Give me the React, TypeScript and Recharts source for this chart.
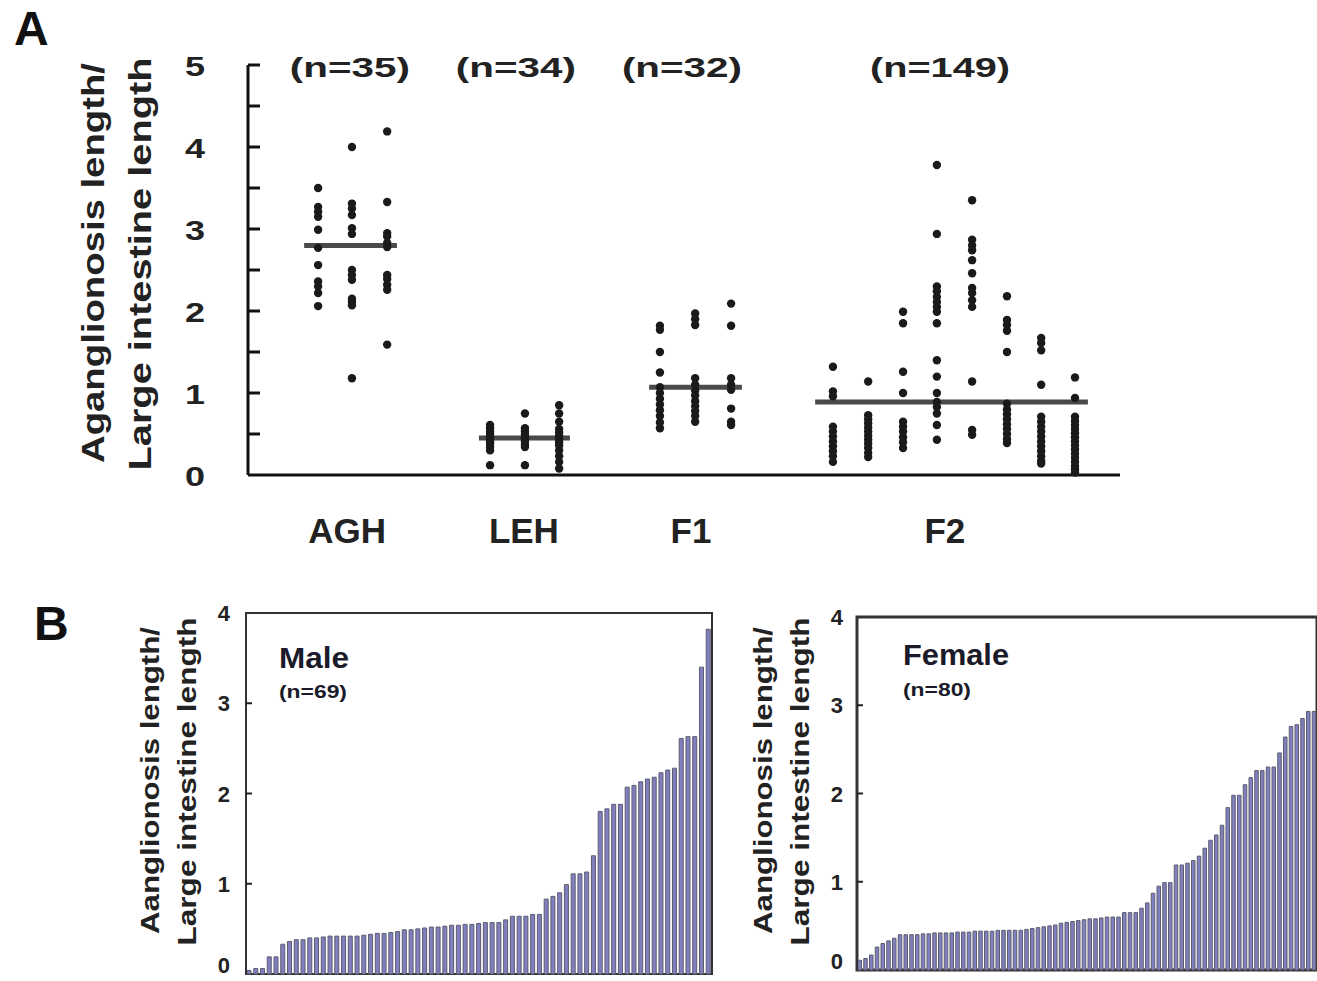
import React from 'react';
import {
  ScatterChart,
  Scatter,
  XAxis,
  YAxis,
  ReferenceLine,
  ReferenceArea,
  BarChart,
  Bar,
  Label,
} from 'recharts';

const FONT = '"Liberation Sans", Arial, sans-serif';

// ---------- Panel A data ----------
const groupNames = ['AGH', 'LEH', 'F1', 'F2'];
const groupLabelX = [2.84, 7.91, 12.7, 19.98];
const groupCounts = ['(n=35)', '(n=34)', '(n=32)', '(n=149)'];
const countLabelX = [2.92, 7.68, 12.44, 19.84];
const columnX = [
  [2.01, 2.98, 3.99],
  [6.94, 7.94, 8.92],
  [11.81, 12.82, 13.85],
  [16.77, 17.78, 18.78, 19.75, 20.76, 21.76, 22.74, 23.71],
];
const aghValues = [
  [3.5, 3.27, 3.21, 3.15, 2.99, 2.77, 2.56, 2.36, 2.3, 2.22, 2.06],
  [4.0, 3.31, 3.25, 3.17, 3.01, 2.94, 2.5, 2.44, 2.38, 2.15, 2.11, 2.07, 1.18],
  [4.19, 3.33, 2.95, 2.91, 2.83, 2.78, 2.44, 2.39, 2.32, 2.26, 1.59],
];
const lehValues = [
  [0.61, 0.57, 0.53, 0.5, 0.47, 0.44, 0.41, 0.38, 0.34, 0.3, 0.12],
  [0.75, 0.57, 0.53, 0.5, 0.47, 0.44, 0.41, 0.37, 0.34, 0.12],
  [0.85, 0.75, 0.65, 0.56, 0.52, 0.48, 0.44, 0.4, 0.36, 0.3, 0.23, 0.16, 0.08],
];
const f1Values = [
  [1.82, 1.77, 1.5, 1.25, 1.07, 1.0, 0.93, 0.86, 0.79, 0.72, 0.64, 0.57],
  [1.97, 1.9, 1.83, 1.18, 1.1, 1.03, 0.97, 0.9, 0.84, 0.78, 0.72, 0.65],
  [2.09, 1.82, 1.18, 1.1, 1.04, 0.81, 0.65, 0.61],
];
const f2Values = [
  [1.32, 1.02, 0.96, 0.59, 0.53, 0.47, 0.41, 0.35, 0.29, 0.23, 0.16],
  [1.14, 0.73, 0.68, 0.63, 0.58, 0.53, 0.48, 0.43, 0.38, 0.33, 0.27, 0.22],
  [1.99, 1.85, 1.26, 1.0, 0.65, 0.59, 0.53, 0.46, 0.4, 0.33],
  [3.78, 2.94, 2.3, 2.24, 2.17, 2.11, 2.05, 1.99, 1.85, 1.4, 1.2, 1.0, 0.89, 0.83, 0.75, 0.61, 0.43],
  [3.35, 2.87, 2.8, 2.74, 2.62, 2.46, 2.28, 2.22, 2.13, 2.05, 1.14, 0.55, 0.49],
  [2.18, 1.89, 1.83, 1.76, 1.5, 0.87, 0.8, 0.74, 0.68, 0.62, 0.56, 0.5, 0.44, 0.39],
  [1.67, 1.61, 1.52, 1.1, 0.71, 0.65, 0.59, 0.53, 0.47, 0.41, 0.35, 0.29, 0.23, 0.17, 0.14],
  [1.19, 0.94, 0.71, 0.66, 0.61, 0.56, 0.51, 0.46, 0.41, 0.36, 0.31, 0.26, 0.21, 0.16, 0.11, 0.07, 0.03],
];
const medians = [2.8, 0.45, 1.07, 0.89];
const medianSpans = [
  [1.61, 4.27],
  [6.62, 9.23],
  [11.5, 14.16],
  [16.26, 24.08],
];
const yTicksA = [0, 0.5, 1, 1.5, 2, 2.5, 3, 3.5, 4, 4.5, 5];

// ---------- Panel B data ----------
const maleValues = [
  0.04, 0.06, 0.06, 0.19, 0.19, 0.33, 0.36, 0.38, 0.38, 0.4, 0.4, 0.41, 0.42, 0.42, 0.42, 0.42, 0.42,
  0.43, 0.44, 0.45, 0.45, 0.46, 0.47, 0.49, 0.49, 0.5, 0.51, 0.52, 0.52, 0.53, 0.54, 0.54, 0.55, 0.55,
  0.56, 0.57, 0.57, 0.57, 0.6, 0.64, 0.64, 0.64, 0.66, 0.66, 0.83, 0.86, 0.9, 0.99, 1.11, 1.11, 1.13,
  1.31, 1.8, 1.83, 1.88, 1.88, 2.07, 2.09, 2.13, 2.16, 2.18, 2.23, 2.26, 2.28, 2.61, 2.63, 2.63, 3.4,
  3.82,
];
const femaleValues = [
  0.11, 0.13, 0.17, 0.26, 0.3, 0.33, 0.36, 0.4, 0.4, 0.4, 0.4, 0.41, 0.41, 0.42, 0.42, 0.42, 0.42,
  0.43, 0.43, 0.43, 0.44, 0.44, 0.44, 0.44, 0.45, 0.45, 0.45, 0.45, 0.45, 0.46, 0.47, 0.48, 0.49, 0.5,
  0.51, 0.53, 0.54, 0.55, 0.56, 0.57, 0.58, 0.58, 0.59, 0.6, 0.6, 0.6, 0.65, 0.65, 0.65, 0.7, 0.76,
  0.87, 0.95, 0.99, 0.99, 1.19, 1.19, 1.21, 1.24, 1.29, 1.38, 1.47, 1.53, 1.64, 1.84, 1.98, 1.98, 2.1,
  2.18, 2.26, 2.26, 2.3, 2.3, 2.46, 2.64, 2.76, 2.78, 2.85, 2.93, 2.93,
];
const yTicksB = [0, 1, 2, 3, 4];

// ---------- build ----------
const groupValues = [aghValues, lehValues, f1Values, f2Values];
const points = groupValues.flatMap((cols, g) =>
  cols.flatMap((vals, c) => vals.map((v) => ({ x: columnX[g][c], y: v })))
);
const countLabels = countLabelX.map((x, i) => ({ x, y: 5, text: groupCounts[i] }));
const maleData = maleValues.map((v, i) => ({ i: i + 1, v }));
const femaleData = femaleValues.map((v, i) => ({ i: i + 1, v }));

const renderYTickA = (props: any) => {
  const { x, y, payload } = props;
  const v = payload.value;
  return (
    <g>
      {v > 0 && <line x1={x} x2={x + 12} y1={y} y2={y} stroke="#111" strokeWidth={3} />}
      {Number.isInteger(v) && (
        <text
          x={x - 43}
          y={y + 11}
          textAnchor="end"
          fontSize={28}
          fontWeight="bold"
          fontFamily={FONT}
          fill="#222"
          textLength={20}
          lengthAdjust="spacingAndGlyphs"
        >
          {v}
        </text>
      )}
    </g>
  );
};

const renderCatTick = (props: any) => {
  const { x, y, payload } = props;
  const idx = groupLabelX.indexOf(payload.value);
  return (
    <text x={x} y={y + 68} textAnchor="middle" fontSize={35} fontWeight="bold" fontFamily={FONT} fill="#222">
      {groupNames[idx]}
    </text>
  );
};

const renderDot = (props: any) => <circle cx={props.cx} cy={props.cy} r={4.2} fill="#1a1a1a" />;

const renderCount = (props: any) => {
  const t = props.payload.text as string;
  return (
    <text
      x={props.cx}
      y={props.cy + 12}
      textAnchor="middle"
      fontSize={28}
      fontWeight="bold"
      fontFamily={FONT}
      fill="#222"
      textLength={t.length * 20}
      lengthAdjust="spacingAndGlyphs"
    >
      {t}
    </text>
  );
};

const rotText = (cx: number, cy: number, s: string, size: number, len: number, key: string) => (
  <text
    key={key}
    x={cx}
    y={cy}
    dy="0.35em"
    transform={`rotate(-90, ${cx}, ${cy})`}
    textAnchor="middle"
    fontSize={size}
    fontWeight="bold"
    fontFamily={FONT}
    fill="#222"
    textLength={len}
    lengthAdjust="spacingAndGlyphs"
  >
    {s}
  </text>
);

const renderTitleA = (props: any) => {
  const vb = props.viewBox || { x: 188, y: 65, width: 60, height: 410 };
  const left = vb.x + vb.width;
  const cy = vb.y + vb.height / 2 - 7;
  return (
    <g>
      {rotText(left - 155, cy, 'Aganglionosis length/', 32, 400, 'a1')}
      {rotText(left - 108, cy + 1, 'Large intestine length', 32, 413, 'a2')}
    </g>
  );
};

const makeTitleB = (first: string, g1: number, g2: number) => (props: any) => {
  const vb = props.viewBox || { x: 0, y: 0, width: 0, height: 0 };
  const left = vb.x + vb.width;
  const cy = vb.y + vb.height / 2 - 13;
  return (
    <g>
      {rotText(left - g1, cy, first, 26, 307, 'b1')}
      {rotText(left - g2, cy + 1, 'Large intestine length', 26, 328, 'b2')}
    </g>
  );
};

const makeYTickB = (gap: number) => (props: any) => {
  const { x, y, payload } = props;
  const v = payload.value;
  return (
    <g>
      {v > 0 && v < 4 && <line x1={x} x2={x + 6} y1={y} y2={y} stroke="#222" strokeWidth={2} />}
      <text
        x={x - gap}
        y={v === 0 ? y - 1 : y + 8}
        textAnchor="end"
        fontSize={22}
        fontWeight="bold"
        fontFamily={FONT}
        fill="#222"
      >
        {v}
      </text>
    </g>
  );
};

const makeSexLabel = (title: string, count: string, dx: number, dy1: number, dy2: number, len1: number) => (props: any) => {
  const vb = props.viewBox || { x: 0, y: 0 };
  return (
    <g>
      <text x={vb.x + dx} y={vb.y + dy1} fontSize={29} fontWeight="bold" fontFamily={FONT} fill="#1a1a2a" textLength={len1} lengthAdjust="spacingAndGlyphs">
        {title}
      </text>
      <text x={vb.x + dx} y={vb.y + dy2} fontSize={18} fontWeight="bold" fontFamily={FONT} fill="#1a1a2a" textLength={68} lengthAdjust="spacingAndGlyphs">
        {count}
      </text>
    </g>
  );
};

export default function App() {
  return (
    <div style={{ position: 'absolute', left: 0, top: 0, width: 1317, height: 981, background: '#fff', overflow: 'hidden' }}>
      <div style={{ position: 'absolute', left: 0, top: 0 }}>
        <ScatterChart width={1317} height={560} margin={{ top: 65, right: 197, bottom: 25, left: 188 }}>
          <XAxis
            type="number"
            dataKey="x"
            domain={[0, 25]}
            ticks={groupLabelX}
            interval={0}
            tickLine={false}
            tickSize={0}
            tickMargin={0}
            height={60}
            axisLine={{ stroke: '#111', strokeWidth: 3 }}
            tick={renderCatTick}
            allowDataOverflow
          />
          <YAxis
            type="number"
            dataKey="y"
            domain={[0, 5]}
            ticks={yTicksA}
            interval={0}
            tickLine={false}
            tickSize={0}
            tickMargin={0}
            width={60}
            axisLine={{ stroke: '#111', strokeWidth: 3 }}
            tick={renderYTickA}
          >
            <Label content={renderTitleA} />
          </YAxis>
          {medians.map((m, i) => (
            <ReferenceLine
              key={`med${i}`}
              segment={[
                { x: medianSpans[i][0], y: m },
                { x: medianSpans[i][1], y: m },
              ]}
              stroke="#4a4a4a"
              strokeWidth={5}
            />
          ))}
          <Scatter data={points} shape={renderDot} isAnimationActive={false} />
          <Scatter data={countLabels} shape={renderCount} isAnimationActive={false} />
        </ScatterChart>
      </div>

      <div style={{ position: 'absolute', left: 0, top: 580 }}>
        <BarChart width={740} height={401} data={maleData} margin={{ top: 33, right: 28, bottom: 7, left: 146 }} barCategoryGap={0}>
          <XAxis dataKey="i" type="category" height={0} tick={false} tickLine={false} axisLine={{ stroke: '#111', strokeWidth: 3 }} />
          <YAxis
            type="number"
            domain={[0, 4]}
            ticks={yTicksB}
            interval={0}
            width={100}
            tickSize={0}
            tickMargin={0}
            tickLine={false}
            axisLine={{ stroke: '#333', strokeWidth: 2 }}
            tick={makeYTickB(16)}
          >
            <Label content={makeTitleB('Aanglionosis length/', 96, 59)} />
          </YAxis>
          <ReferenceArea y1={0} y2={4} fillOpacity={0} stroke="#333" strokeWidth={2} label={makeSexLabel('Male', '(n=69)', 33, 55, 85, 70)} />
          <Bar dataKey="v" fill="#8080c0" stroke="#5c5c6e" strokeWidth={1} barSize={4} isAnimationActive={false} />
        </BarChart>
      </div>

      <div style={{ position: 'absolute', left: 740, top: 580 }}>
        <BarChart width={577} height={401} data={femaleData} margin={{ top: 37, right: 0, bottom: 11, left: 17 }} barCategoryGap={0}>
          <XAxis dataKey="i" type="category" height={0} tick={false} tickLine={false} axisLine={{ stroke: '#111', strokeWidth: 3 }} />
          <YAxis
            type="number"
            domain={[0, 4]}
            ticks={yTicksB}
            interval={0}
            width={100}
            tickSize={0}
            tickMargin={0}
            tickLine={false}
            axisLine={{ stroke: '#333', strokeWidth: 2 }}
            tick={makeYTickB(14)}
          >
            <Label content={makeTitleB('Aanglionosis length/', 94, 57)} />
          </YAxis>
          <ReferenceArea y1={0} y2={4} fillOpacity={0} stroke="#333" strokeWidth={3} label={makeSexLabel('Female', '(n=80)', 46, 48, 79, 106)} />
          <Bar dataKey="v" fill="#8080c0" stroke="#5c5c6e" strokeWidth={1} barSize={3.5} isAnimationActive={false} />
        </BarChart>
      </div>

      <svg width={1317} height={981} style={{ position: 'absolute', left: 0, top: 0, pointerEvents: 'none' }}>
        <text x={14} y={45} fontSize={48} fontWeight="bold" fontFamily={FONT} fill="#111">A</text>
        <text x={34} y={640} fontSize={48} fontWeight="bold" fontFamily={FONT} fill="#111">B</text>
      </svg>
    </div>
  );
}
